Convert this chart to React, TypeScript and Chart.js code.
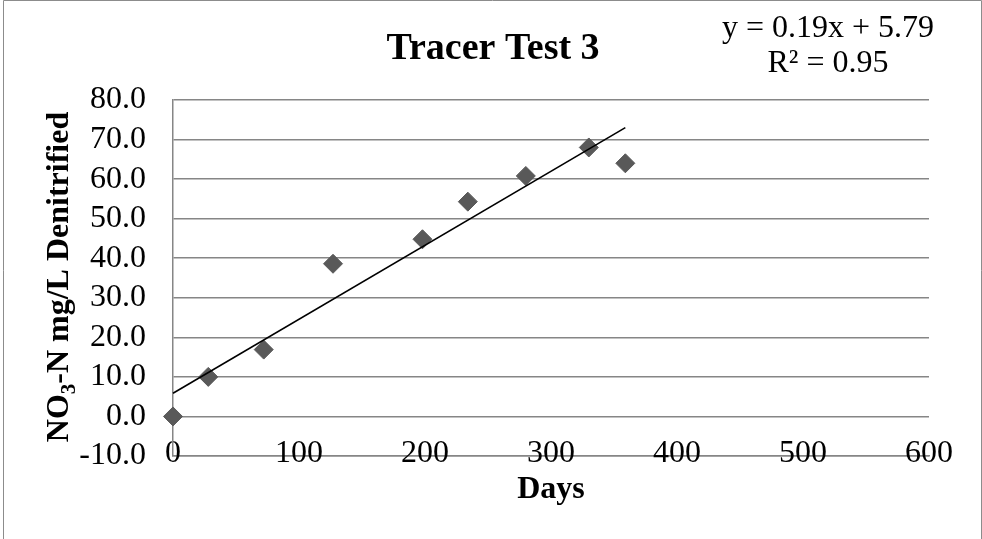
import React, { useEffect, useRef } from "react";
import { Chart, registerables } from "chart.js";

Chart.register(...registerables);

// ---- Data & text ----
const chartTitle = "Tracer Test 3";
const xAxisTitle = "Days";
const yAxisTitleParts = [
  { text: "NO", sub: false },
  { text: "3", sub: true },
  { text: "-N mg/L Denitrified", sub: false },
];
const trendLabelLines = ["y = 0.19x + 5.79", "R\u00B2 = 0.95"];

const days = [0, 28, 72, 127, 198, 234, 280, 330, 359];
const no3NDenitrified = [0, 10.0, 16.9, 38.6, 44.8, 54.3, 60.8, 68.0, 64.0];

const xTickValues = [0, 100, 200, 300, 400, 500, 600];
const yTickValues = [-10, 0, 10, 20, 30, 40, 50, 60, 70, 80];

// ---- Styles ----
const FONT = '"Liberation Serif", "Times New Roman", Times, serif';
const GRID = "#868686";
const MARKER = "#595959";

function linearFit(xs: number[], ys: number[]) {
  const n = xs.length;
  const mx = xs.reduce((a, b) => a + b, 0) / n;
  const my = ys.reduce((a, b) => a + b, 0) / n;
  let sxy = 0;
  let sxx = 0;
  for (let i = 0; i < n; i++) {
    sxy += (xs[i] - mx) * (ys[i] - my);
    sxx += (xs[i] - mx) * (xs[i] - mx);
  }
  const slope = sxy / sxx;
  return { slope, intercept: my - slope * mx };
}

const decorPlugin = {
  id: "decor",
  beforeDraw(chart: any) {
    const ctx = chart.ctx as CanvasRenderingContext2D;
    ctx.save();
    ctx.strokeStyle = "#8c8c8c";
    ctx.lineWidth = 1;
    ctx.beginPath();
    ctx.moveTo(3.5, 560);
    ctx.lineTo(3.5, 0.5);
    ctx.lineTo(981.5, 0.5);
    ctx.lineTo(981.5, 560);
    ctx.stroke();
    ctx.restore();
  },
  afterDraw(chart: any) {
    const ctx = chart.ctx as CanvasRenderingContext2D;
    ctx.save();
    ctx.fillStyle = "#000";
    ctx.textBaseline = "alphabetic";

    // Title
    ctx.textAlign = "center";
    ctx.font = `bold 38px ${FONT}`;
    ctx.fillText(chartTitle, 493, 59);

    // Trendline label
    ctx.font = `32px ${FONT}`;
    ctx.fillText(trendLabelLines[0], 828, 37);
    ctx.fillText(trendLabelLines[1], 828, 72);

    // Y axis title (rotated, with subscript)
    const area = chart.chartArea;
    ctx.translate(68, (area.top + area.bottom) / 2 - 1);
    ctx.rotate(-Math.PI / 2);
    ctx.textAlign = "left";
    const bigFont = `bold 32px ${FONT}`;
    const smallFont = `bold 21px ${FONT}`;
    let total = 0;
    for (const p of yAxisTitleParts) {
      ctx.font = p.sub ? smallFont : bigFont;
      total += ctx.measureText(p.text).width;
    }
    let x = -total / 2;
    for (const p of yAxisTitleParts) {
      ctx.font = p.sub ? smallFont : bigFont;
      ctx.fillText(p.text, x, p.sub ? 7 : 0);
      x += ctx.measureText(p.text).width;
    }
    ctx.restore();
  },
};

export default function App() {
  const canvasRef = useRef<HTMLCanvasElement | null>(null);

  useEffect(() => {
    document.body.style.margin = "0";
    const canvas = canvasRef.current;
    if (!canvas) return;

    const { slope, intercept } = linearFit(days, no3NDenitrified);
    const xMinData = Math.min(...days);
    const xMaxData = Math.max(...days);
    const trendPoints = [
      { x: xMinData, y: intercept + slope * xMinData },
      { x: xMaxData, y: intercept + slope * xMaxData },
    ];
    const points = days.map((d, i) => ({ x: d, y: no3NDenitrified[i] }));

    const chart = new Chart(canvas, {
      type: "scatter",
      data: {
        datasets: [
          {
            label: "Linear trend",
            data: trendPoints,
            showLine: true,
            borderColor: "#000000",
            borderWidth: 1.6,
            pointRadius: 0,
            fill: false,
            order: 0,
            clip: false,
          } as any,
          {
            label: "NO3-N",
            data: points,
            pointStyle: "rectRot",
            pointRadius: 9.5,
            backgroundColor: MARKER,
            borderColor: MARKER,
            borderWidth: 1,
            showLine: false,
            order: 1,
            clip: false,
          } as any,
        ],
      },
      options: {
        responsive: false,
        animation: false,
        devicePixelRatio: 1,
        layout: { padding: { top: 100, right: 53, bottom: 0, left: 0 } },
        plugins: {
          legend: { display: false },
          tooltip: { enabled: false },
          title: { display: false },
        },
        scales: {
          x: {
            type: "linear",
            position: "bottom",
            min: xTickValues[0],
            max: xTickValues[xTickValues.length - 1],
            afterBuildTicks: (s: any) => {
              s.ticks = xTickValues.map((v) => ({ value: v }));
            },
            ticks: {
              autoSkip: false,
              maxRotation: 0,
              minRotation: 0,
              mirror: true,
              padding: -17,
              color: "#000",
              font: { family: FONT, size: 32 },
              callback: (v: any) => String(v),
            },
            grid: { display: false, drawTicks: false },
            border: { display: true, color: GRID, width: 1.5 },
            title: {
              display: true,
              text: xAxisTitle,
              color: "#000",
              font: { family: FONT, size: 32, weight: "bold" },
              padding: { top: 0, bottom: 30 },
            },
            afterFit: (s: any) => {
              s.height = 83;
            },
          },
          y: {
            type: "linear",
            min: yTickValues[0],
            max: yTickValues[yTickValues.length - 1],
            afterBuildTicks: (s: any) => {
              s.ticks = yTickValues.map((v) => ({ value: v }));
            },
            ticks: {
              autoSkip: false,
              padding: 27,
              color: "#000",
              font: { family: FONT, size: 32 },
              callback: (v: any) => Number(v).toFixed(1),
            },
            grid: { color: GRID, lineWidth: 1.5, drawTicks: false },
            border: { display: true, color: GRID, width: 1.5 },
            afterFit: (s: any) => {
              s.width = 173;
            },
          },
        },
      } as any,
      plugins: [decorPlugin],
    });

    return () => chart.destroy();
  }, []);

  return (
    <div style={{ width: 982, height: 539, overflow: "hidden" }}>
      <canvas ref={canvasRef} width={982} height={539} style={{ display: "block" }} />
    </div>
  );
}
